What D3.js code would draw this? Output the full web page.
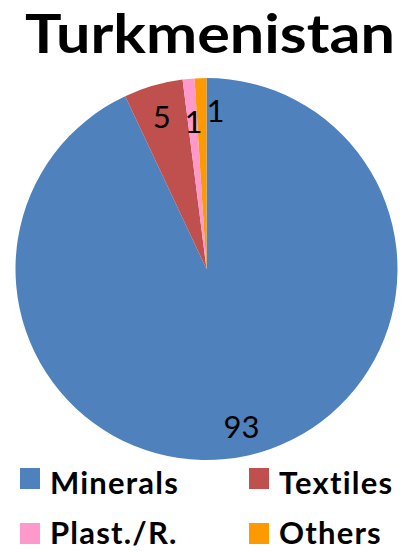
<!DOCTYPE html>
<html><head><meta charset="utf-8">
<script src="https://cdn.jsdelivr.net/npm/d3@7"></script>
<style>html,body{margin:0;padding:0;background:#fff;overflow:hidden}</style>
</head><body>
<svg id="c" width="403" height="552"></svg>
<script>
const title = "Turkmenistan";
const categories = ["Minerals", "Textiles", "Plast./R.", "Others"];
const values = [93, 5, 1, 1];
const colors = ["#4F81BD", "#C0504D", "#FF99CC", "#FF9900"];

const svg = d3.select("#c");
const cx = 206.5, cy = 269, r = 191;

svg.append("text").attr("x", 210).attr("y", 53)
  .attr("text-anchor", "middle")
  .attr("font-family", "Lato, 'Open Sans', sans-serif")
  .attr("font-weight", "bold").attr("font-size", 54)
  .attr("textLength", 370).attr("lengthAdjust", "spacingAndGlyphs")
  .text(title);

const data = categories.map((c, i) => ({cat: c, value: values[i], color: colors[i]}));
const pie = d3.pie().value(d => d.value).sort(null);
const arcs = pie(data);
const arc = d3.arc().innerRadius(0).outerRadius(r);
const labelArc = d3.arc().innerRadius(r * 0.84).outerRadius(r * 0.84);

const g = svg.append("g").attr("transform", `translate(${cx},${cy})`);
g.selectAll("path").data(arcs).join("path")
  .attr("d", arc).attr("fill", d => d.data.color);

// label positions from centroids, with small slices near the top spread apart
const pos = arcs.map(a => labelArc.centroid(a));
const n = pos.length;
pos[n - 1][0] += 14; pos[n - 1][1] += 1;
pos[n - 2][0] += 2;  pos[n - 2][1] += 12;
pos[n - 3][1] += 1;

g.selectAll("text.lbl").data(arcs).join("text").attr("class", "lbl")
  .attr("x", (d, i) => pos[i][0]).attr("y", (d, i) => pos[i][1])
  .attr("text-anchor", "middle").attr("dominant-baseline", "central")
  .attr("font-family", "Lato, 'Open Sans', sans-serif")
  .attr("font-size", 31).attr("fill", "#000")
  .text(d => d.data.value);

// legend 2x2
const colX = d3.scaleOrdinal().domain([0, 1]).range([20, 249]);
const rowY = d3.scaleOrdinal().domain([0, 1]).range([468, 523]);
const baseY = d3.scaleOrdinal().domain([0, 1]).range([494, 544]);
const leg = svg.append("g");
data.forEach((d, i) => {
  const row = Math.floor(i / 2);
  const x = colX(i % 2), y = rowY(row);
  leg.append("rect").attr("x", x).attr("y", y).attr("width", 20).attr("height", 21).attr("fill", d.color);
  leg.append("text").attr("x", x + 30).attr("y", baseY(row))
    .attr("font-family", "Lato, 'Open Sans', sans-serif")
    .attr("font-weight", "bold").attr("font-size", 31)
    .attr("letter-spacing", 1.2).attr("fill", "#000")
    .text(d.cat);
});
</script>
</body></html>
